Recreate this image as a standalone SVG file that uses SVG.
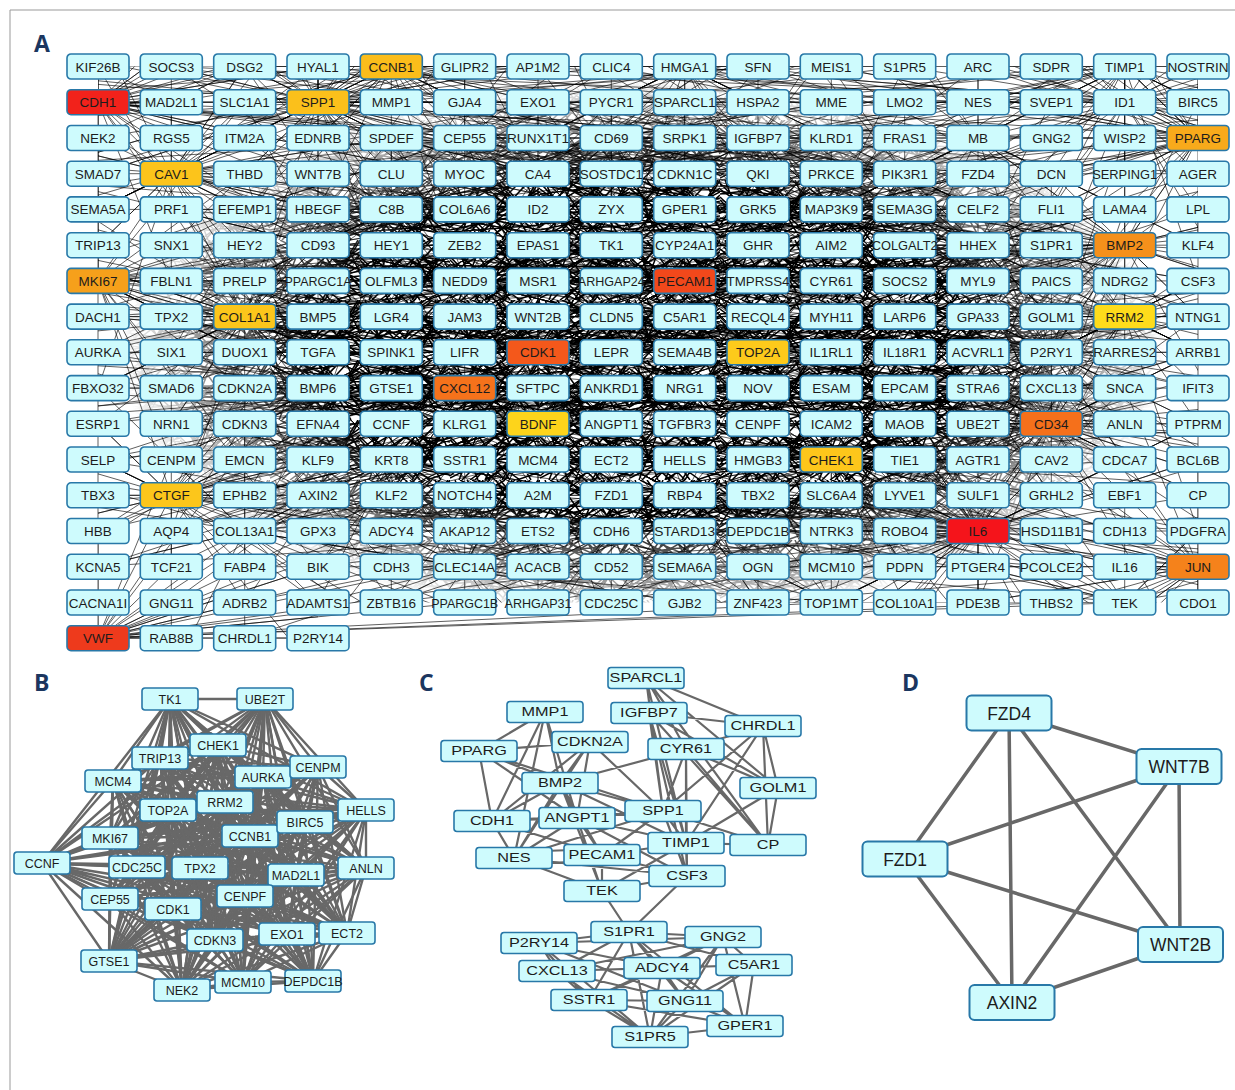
<svg xmlns="http://www.w3.org/2000/svg" width="1235" height="1090" viewBox="0 0 1235 1090">
<style>
.n rect{fill:#cefbfd;stroke:#2878a8;stroke-width:1.6px}
.n text{font-family:"Liberation Sans",Arial,sans-serif;fill:#1c1c1c;text-anchor:middle}
.pa rect{width:62px;height:25px;rx:4px;ry:4px}
.pa text{font-size:13.5px}
.pb rect{width:56px;height:22px;rx:3px;ry:3px}
.pb text{font-size:12.5px}
.pc rect{width:76px;height:21px;rx:3px;ry:3px}
.pc text{font-size:13px;transform:scaleX(1.25);transform-box:fill-box;transform-origin:center}
.pd rect{width:85px;height:35px;rx:5px;ry:5px;stroke-width:2px}
.pd text{font-size:17.5px}
.lbl{font-family:"Open Sans","Liberation Sans",sans-serif;font-weight:700;font-size:23px;fill:#1b365f}
.ea{fill:none;stroke:#000;stroke-width:.7px;stroke-opacity:.9}
.eg{fill:none;stroke:#686868;stroke-linecap:round;stroke-linejoin:round}
</style>
<defs>
<pattern id="mesh" width="90" height="60" patternUnits="userSpaceOnUse">
<path fill="none" stroke="#000" stroke-width="1.5" d="M0 5L90 22M0 14L90 3M0 27L90 41M0 38L90 55M0 50L90 31M0 58L90 12M5 0L28 60M17 0L60 60M33 0L9 60M46 0L81 60M62 0L35 60M75 0L90 34M88 0L52 60M0 20L40 60M50 0L90 48M0 45L30 0M20 60L90 8M0 9L70 60M10 0L90 40M0 33L55 0M35 60L90 25M0 52L90 45M40 0L0 30M67 60L90 52M0 25L90 28M12 60L72 0M0 41L90 18M80 0L25 60M55 60L90 0M0 17L45 60M28 0L90 56M0 56L65 0M0 31L90 50M70 0L0 47M90 15L38 60M0 44L90 36M22 0L90 30M0 3L55 60M90 46L45 0"/>
</pattern>
<radialGradient id="coreFade" cx=".5" cy=".5" r=".5">
<stop offset="0" stop-color="#fff"/><stop offset=".62" stop-color="#fff"/><stop offset=".88" stop-color="#555"/><stop offset="1" stop-color="#000"/>
</radialGradient>
<mask id="coreMask"><rect x="120" y="80" width="1045" height="540" fill="url(#coreFade)"/></mask>
<clipPath id="gridClip"><path d="M98 66.5H1198V602.5H318V638.2H98Z"/></clipPath>
<path id="sA" d="M73.3 0L0 0 146.7 35.7M220-35.7L0 0 73.3 71.5M293.3 71.5L0 0 146.7-107.2M366.7 35.7L0 0 220 142.9M0 107.2L0 0-73.3 71.5M-146.7 142.9L0 0-220 35.7M-293.3-71.5L0 0 440-71.5M146.7 214.4L0 0-73.3-142.9M293.3-178.7L0 0 513.3 107.2M-366.7 107.2L0 0 73.3-71.5M220 71.5L0 0-146.7-35.7M366.7-142.9L0 0 0-214.4"/>
<path id="sB" d="M146.7 0L0 0 73.3 35.7M293.3-35.7L0 0 220 107.2M-73.3 35.7L0 0-220 107.2M-146.7-71.5L0 0 73.3-107.2M440 35.7L0 0 146.7 178.7M-293.3 0L0 0 366.7 107.2M-73.3 214.4L0 0 220-71.5M-440-35.7L0 0 293.3 142.9M0-71.5L0 0 146.7-178.7M-220-142.9L0 0 513.3-35.7M73.3 142.9L0 0-146.7 71.5M366.7-71.5L0 0-366.7 178.7"/>
<path id="sC" d="M586.7 71.5L0 0 440 178.7M220 285.8L0 0-146.7 250.1M-440 142.9L0 0-586.7 35.7M-513.3-107.2L0 0-293.3-214.4M0-250.1L0 0 293.3-214.4M513.3-142.9L0 0 660 0M366.7 0L0 0 146.7 107.2M-220 71.5L0 0-73.3-107.2M220-107.2L0 0 73.3 178.7M-366.7-35.7L0 0 440-35.7"/>
<path id="sD" d="M73.3 35.7L0 0-73.3 35.7M73.3-35.7L0 0-73.3-35.7M146.7 35.7L0 0-146.7-35.7M73.3 71.5L0 0-73.3-71.5M146.7-35.7L0 0-146.7 35.7M220 0L0 0-220 0M146.7 71.5L0 0-146.7 71.5M220 35.7L0 0-220-35.7M73.3 107.2L0 0-73.3 107.2M220-71.5L0 0-220 71.5"/>
</defs>
<rect width="1235" height="1090" fill="#fff"/>
<path d="M10 1090V10H1235" fill="none" stroke="#999" stroke-width="1"/>

<!-- panel labels -->
<text class="lbl" x="34" y="52">A</text>
<text class="lbl" x="34" y="691">B</text>
<text class="lbl" x="419" y="691">C</text>
<text class="lbl" x="902" y="691">D</text>

<!-- A: connectors -->
<g id="edges-a" class="ea">
<g clip-path="url(#gridClip)">
<rect x="120" y="80" width="1045" height="540" fill="url(#mesh)" stroke="none" mask="url(#coreMask)"/>
<use href="#sC" transform="translate(684.7 280.9)"/>
<use href="#sA" transform="translate(684.7 280.9)"/>
<use href="#sB" transform="translate(684.7 280.9)scale(-1 1)"/>
<use href="#sD" transform="translate(684.7 280.9)"/>
<use href="#sC" transform="translate(538 352.3)scale(-1 1)"/>
<use href="#sA" transform="translate(538 352.3)scale(-1 -1)"/>
<use href="#sB" transform="translate(538 352.3)"/>
<use href="#sD" transform="translate(538 352.3)"/>
<use href="#sC" transform="translate(464.7 388.1)scale(1 -1)"/>
<use href="#sB" transform="translate(464.7 388.1)scale(-1 -1)"/>
<use href="#sD" transform="translate(464.7 388.1)scale(-1 1)"/>
<use href="#sA" transform="translate(538 423.8)scale(1 -1)"/>
<use href="#sB" transform="translate(538 423.8)scale(-1 1)"/>
<use href="#sD" transform="translate(538 423.8)"/>
<use href="#sC" transform="translate(758 352.3)scale(-1 -1)"/>
<use href="#sA" transform="translate(758 352.3)scale(-1 1)"/>
<use href="#sD" transform="translate(758 352.3)"/>
<use href="#sC" transform="translate(978 531)scale(-1 -1)"/>
<use href="#sA" transform="translate(978 531)scale(-1 -1)"/>
<use href="#sB" transform="translate(978 531)scale(-1 -1)"/>
<use href="#sC" transform="translate(1051.3 423.8)scale(-1 1)"/>
<use href="#sB" transform="translate(1051.3 423.8)scale(-1 -1)"/>
<use href="#sD" transform="translate(1051.3 423.8)"/>
<use href="#sA" transform="translate(831.3 459.5)scale(-1 -1)"/>
<use href="#sB" transform="translate(831.3 459.5)scale(1 -1)"/>
<use href="#sD" transform="translate(831.3 459.5)"/>
<use href="#sC" transform="translate(98 102.2)"/>
<use href="#sA" transform="translate(98 102.2)"/>
<use href="#sC" transform="translate(98 638.2)scale(1 -1)"/>
<use href="#sA" transform="translate(98 638.2)scale(1 -1)"/>
<use href="#sC" transform="translate(1198 566.7)scale(-1 -1)"/>
<use href="#sA" transform="translate(1198 566.7)scale(-1 -1)"/>
<use href="#sC" transform="translate(98 280.9)"/>
<use href="#sB" transform="translate(98 280.9)"/>
<use href="#sC" transform="translate(1124.7 245.2)scale(-1 1)"/>
<use href="#sA" transform="translate(1124.7 245.2)scale(-1 1)"/>
<use href="#sA" transform="translate(318 102.2)"/>
<use href="#sB" transform="translate(318 102.2)"/>
<use href="#sC" transform="translate(318 102.2)"/>
<use href="#sA" transform="translate(391.3 66.5)"/>
<use href="#sB" transform="translate(391.3 66.5)scale(-1 1)"/>
<use href="#sB" transform="translate(171.3 173.7)"/>
<use href="#sA" transform="translate(171.3 173.7)"/>
<use href="#sB" transform="translate(244.7 316.6)"/>
<use href="#sC" transform="translate(244.7 316.6)scale(1 -1)"/>
<use href="#sD" transform="translate(244.7 316.6)"/>
<use href="#sA" transform="translate(171.3 495.3)scale(1 -1)"/>
<use href="#sB" transform="translate(171.3 495.3)scale(1 -1)"/>
<use href="#sB" transform="translate(1124.7 316.6)scale(-1 1)"/>
<use href="#sD" transform="translate(1124.7 316.6)"/>
<use href="#sA" transform="translate(1198 138)scale(-1 1)"/>
<use href="#sB" transform="translate(1198 138)scale(-1 1)"/>
<use href="#sD" transform="translate(611.3 245.2)"/>
<use href="#sB" transform="translate(611.3 245.2)"/>
<use href="#sA" transform="translate(611.3 316.6)"/>
<use href="#sD" transform="translate(611.3 316.6)"/>
<use href="#sB" transform="translate(684.7 388.1)scale(-1 -1)"/>
<use href="#sD" transform="translate(684.7 388.1)"/>
<use href="#sA" transform="translate(464.7 280.9)"/>
<use href="#sD" transform="translate(464.7 280.9)"/>
<use href="#sB" transform="translate(391.3 209.4)"/>
<use href="#sD" transform="translate(391.3 209.4)"/>
<use href="#sA" transform="translate(831.3 209.4)scale(-1 1)"/>
<use href="#sD" transform="translate(831.3 209.4)"/>
<use href="#sB" transform="translate(904.7 316.6)scale(-1 1)"/>
<use href="#sD" transform="translate(904.7 316.6)"/>
<use href="#sA" transform="translate(391.3 459.5)scale(1 -1)"/>
<use href="#sD" transform="translate(391.3 459.5)"/>
<use href="#sB" transform="translate(684.7 495.3)scale(1 -1)"/>
<use href="#sD" transform="translate(684.7 495.3)"/>
<use href="#sA" transform="translate(538 173.7)"/>
<use href="#sD" transform="translate(538 173.7)"/>
<use href="#sB" transform="translate(758 138)"/>
<use href="#sD" transform="translate(978 245.2)"/>
<use href="#sA" transform="translate(978 245.2)scale(-1 1)"/>
<use href="#sD" transform="translate(318 388.1)"/>
<use href="#sB" transform="translate(318 388.1)scale(1 -1)"/>
<use href="#sD" transform="translate(904.7 423.8)"/>
<use href="#sA" transform="translate(1124.7 66.5)scale(-1 1)"/>
<use href="#sB" transform="translate(1124.7 66.5)scale(-1 1)"/>
<use href="#sD" transform="translate(1124.7 102.2)"/>
<use href="#sC" transform="translate(1124.7 102.2)scale(-1 1)"/>
<use href="#sB" transform="translate(611.3 531)scale(-1 -1)"/>
<use href="#sA" transform="translate(244.7 531)scale(1 -1)"/>
<use href="#sD" transform="translate(1051.3 352.3)"/>
<use href="#sB" transform="translate(1051.3 352.3)scale(-1 -1)"/>
<use href="#sD" transform="translate(244.7 66.5)"/>
<use href="#sD" transform="translate(684.7 66.5)"/>
<use href="#sB" transform="translate(684.7 66.5)"/>
<use href="#sB" transform="translate(831.3 602.5)scale(-1 -1)"/>
<use href="#sA" transform="translate(1124.7 602.5)scale(-1 -1)"/>
<use href="#sD" transform="translate(464.7 566.7)"/>
<use href="#sA" transform="translate(611.3 138)"/>
<use href="#sB" transform="translate(904.7 173.7)scale(-1 1)"/>
<use href="#sA" transform="translate(318 245.2)"/>
<use href="#sB" transform="translate(978 138)scale(-1 1)"/>
<use href="#sC" transform="translate(464.7 138)"/>
<use href="#sD" transform="translate(318 495.3)"/>
<use href="#sD" transform="translate(978 388.1)"/>
<use href="#sD" transform="translate(758 209.4)"/>
<use href="#sD" transform="translate(391.3 316.6)"/>
</g>
<path d="M98 102.2V638.2M1198 209.4V602.5M98 638.2L1124.7 602.5M98 638.2L1051.3 602.5M98 638.2L831.3 602.5M98 638.2L611.3 566.7M98 638.2L538 495.3M98 638.2L391.3 531M98 638.2L244.7 566.7M98 638.2L318 638.2M98 638.2L171.3 602.5M98 638.2L464.7 602.5M98 66.5L171.3 102.2M244.7 66.5L1124.7 66.5M318 66.5L684.7 102.2M391.3 66.5L1124.7 102.2M171.3 66.5L978 102.2M464.7 66.5L1198 102.2M98 102.2L1051.3 138M98 102.2L904.7 173.7M98 102.2L538 138M98 102.2L758 173.7M98 102.2L611.3 209.4M1124.7 66.5L1198 66.5M1198 66.5L1124.7 102.2M538 66.5L1051.3 102.2M758 66.5L391.3 102.2M904.7 66.5L611.3 102.2M831.3 66.5L1198 138M171.3 66.5L684.7 138"/>
</g>

<!-- A: nodes, one row per group -->
<g id="nodes-a" class="n pa">
<g transform="translate(0 54)">
<g id="a-KIF26B" transform="translate(67)"><rect/><text x="31" y="17.5">KIF26B</text></g>
<g id="a-SOCS3" transform="translate(140.3)"><rect/><text x="31" y="17.5">SOCS3</text></g>
<g id="a-DSG2" transform="translate(213.7)"><rect/><text x="31" y="17.5">DSG2</text></g>
<g id="a-HYAL1" transform="translate(287)"><rect/><text x="31" y="17.5">HYAL1</text></g>
<g id="a-CCNB1" transform="translate(360.3)"><rect style="fill:#fbbd1b"/><text x="31" y="17.5">CCNB1</text></g>
<g id="a-GLIPR2" transform="translate(433.7)"><rect/><text x="31" y="17.5">GLIPR2</text></g>
<g id="a-AP1M2" transform="translate(507)"><rect/><text x="31" y="17.5">AP1M2</text></g>
<g id="a-CLIC4" transform="translate(580.3)"><rect/><text x="31" y="17.5">CLIC4</text></g>
<g id="a-HMGA1" transform="translate(653.7)"><rect/><text x="31" y="17.5">HMGA1</text></g>
<g id="a-SFN" transform="translate(727)"><rect/><text x="31" y="17.5">SFN</text></g>
<g id="a-MEIS1" transform="translate(800.3)"><rect/><text x="31" y="17.5">MEIS1</text></g>
<g id="a-S1PR5" transform="translate(873.7)"><rect/><text x="31" y="17.5">S1PR5</text></g>
<g id="a-ARC" transform="translate(947)"><rect/><text x="31" y="17.5">ARC</text></g>
<g id="a-SDPR" transform="translate(1020.3)"><rect/><text x="31" y="17.5">SDPR</text></g>
<g id="a-TIMP1" transform="translate(1093.7)"><rect/><text x="31" y="17.5">TIMP1</text></g>
<g id="a-NOSTRIN" transform="translate(1167)"><rect/><text x="31" y="17.5" textLength="61" lengthAdjust="spacingAndGlyphs">NOSTRIN</text></g>
</g>
<g transform="translate(0 89.7)">
<g id="a-CDH1" transform="translate(67)"><rect style="fill:#f2221b"/><text x="31" y="17.5">CDH1</text></g>
<g id="a-MAD2L1" transform="translate(140.3)"><rect/><text x="31" y="17.5">MAD2L1</text></g>
<g id="a-SLC1A1" transform="translate(213.7)"><rect/><text x="31" y="17.5">SLC1A1</text></g>
<g id="a-SPP1" transform="translate(287)"><rect style="fill:#fbc01b"/><text x="31" y="17.5">SPP1</text></g>
<g id="a-MMP1" transform="translate(360.3)"><rect/><text x="31" y="17.5">MMP1</text></g>
<g id="a-GJA4" transform="translate(433.7)"><rect/><text x="31" y="17.5">GJA4</text></g>
<g id="a-EXO1" transform="translate(507)"><rect/><text x="31" y="17.5">EXO1</text></g>
<g id="a-PYCR1" transform="translate(580.3)"><rect/><text x="31" y="17.5">PYCR1</text></g>
<g id="a-SPARCL1" transform="translate(653.7)"><rect/><text x="31" y="17.5" textLength="62" lengthAdjust="spacingAndGlyphs">SPARCL1</text></g>
<g id="a-HSPA2" transform="translate(727)"><rect/><text x="31" y="17.5">HSPA2</text></g>
<g id="a-MME" transform="translate(800.3)"><rect/><text x="31" y="17.5">MME</text></g>
<g id="a-LMO2" transform="translate(873.7)"><rect/><text x="31" y="17.5">LMO2</text></g>
<g id="a-NES" transform="translate(947)"><rect/><text x="31" y="17.5">NES</text></g>
<g id="a-SVEP1" transform="translate(1020.3)"><rect/><text x="31" y="17.5">SVEP1</text></g>
<g id="a-ID1" transform="translate(1093.7)"><rect/><text x="31" y="17.5">ID1</text></g>
<g id="a-BIRC5" transform="translate(1167)"><rect/><text x="31" y="17.5">BIRC5</text></g>
</g>
<g transform="translate(0 125.5)">
<g id="a-NEK2" transform="translate(67)"><rect/><text x="31" y="17.5">NEK2</text></g>
<g id="a-RGS5" transform="translate(140.3)"><rect/><text x="31" y="17.5">RGS5</text></g>
<g id="a-ITM2A" transform="translate(213.7)"><rect/><text x="31" y="17.5">ITM2A</text></g>
<g id="a-EDNRB" transform="translate(287)"><rect/><text x="31" y="17.5">EDNRB</text></g>
<g id="a-SPDEF" transform="translate(360.3)"><rect/><text x="31" y="17.5">SPDEF</text></g>
<g id="a-CEP55" transform="translate(433.7)"><rect/><text x="31" y="17.5">CEP55</text></g>
<g id="a-RUNX1T1" transform="translate(507)"><rect/><text x="31" y="17.5" textLength="62" lengthAdjust="spacingAndGlyphs">RUNX1T1</text></g>
<g id="a-CD69" transform="translate(580.3)"><rect/><text x="31" y="17.5">CD69</text></g>
<g id="a-SRPK1" transform="translate(653.7)"><rect/><text x="31" y="17.5">SRPK1</text></g>
<g id="a-IGFBP7" transform="translate(727)"><rect/><text x="31" y="17.5">IGFBP7</text></g>
<g id="a-KLRD1" transform="translate(800.3)"><rect/><text x="31" y="17.5">KLRD1</text></g>
<g id="a-FRAS1" transform="translate(873.7)"><rect/><text x="31" y="17.5">FRAS1</text></g>
<g id="a-MB" transform="translate(947)"><rect/><text x="31" y="17.5">MB</text></g>
<g id="a-GNG2" transform="translate(1020.3)"><rect/><text x="31" y="17.5">GNG2</text></g>
<g id="a-WISP2" transform="translate(1093.7)"><rect/><text x="31" y="17.5">WISP2</text></g>
<g id="a-PPARG" transform="translate(1167)"><rect style="fill:#f8aa1b"/><text x="31" y="17.5">PPARG</text></g>
</g>
<g transform="translate(0 161.2)">
<g id="a-SMAD7" transform="translate(67)"><rect/><text x="31" y="17.5">SMAD7</text></g>
<g id="a-CAV1" transform="translate(140.3)"><rect style="fill:#fcc41b"/><text x="31" y="17.5">CAV1</text></g>
<g id="a-THBD" transform="translate(213.7)"><rect/><text x="31" y="17.5">THBD</text></g>
<g id="a-WNT7B" transform="translate(287)"><rect/><text x="31" y="17.5">WNT7B</text></g>
<g id="a-CLU" transform="translate(360.3)"><rect/><text x="31" y="17.5">CLU</text></g>
<g id="a-MYOC" transform="translate(433.7)"><rect/><text x="31" y="17.5">MYOC</text></g>
<g id="a-CA4" transform="translate(507)"><rect/><text x="31" y="17.5">CA4</text></g>
<g id="a-SOSTDC1" transform="translate(580.3)"><rect/><text x="31" y="17.5" textLength="63" lengthAdjust="spacingAndGlyphs">SOSTDC1</text></g>
<g id="a-CDKN1C" transform="translate(653.7)"><rect/><text x="31" y="17.5">CDKN1C</text></g>
<g id="a-QKI" transform="translate(727)"><rect/><text x="31" y="17.5">QKI</text></g>
<g id="a-PRKCE" transform="translate(800.3)"><rect/><text x="31" y="17.5">PRKCE</text></g>
<g id="a-PIK3R1" transform="translate(873.7)"><rect/><text x="31" y="17.5">PIK3R1</text></g>
<g id="a-FZD4" transform="translate(947)"><rect/><text x="31" y="17.5">FZD4</text></g>
<g id="a-DCN" transform="translate(1020.3)"><rect/><text x="31" y="17.5">DCN</text></g>
<g id="a-SERPING1" transform="translate(1093.7)"><rect/><text x="31" y="17.5" textLength="65" lengthAdjust="spacingAndGlyphs">SERPING1</text></g>
<g id="a-AGER" transform="translate(1167)"><rect/><text x="31" y="17.5">AGER</text></g>
</g>
<g transform="translate(0 196.9)">
<g id="a-SEMA5A" transform="translate(67)"><rect/><text x="31" y="17.5">SEMA5A</text></g>
<g id="a-PRF1" transform="translate(140.3)"><rect/><text x="31" y="17.5">PRF1</text></g>
<g id="a-EFEMP1" transform="translate(213.7)"><rect/><text x="31" y="17.5">EFEMP1</text></g>
<g id="a-HBEGF" transform="translate(287)"><rect/><text x="31" y="17.5">HBEGF</text></g>
<g id="a-C8B" transform="translate(360.3)"><rect/><text x="31" y="17.5">C8B</text></g>
<g id="a-COL6A6" transform="translate(433.7)"><rect/><text x="31" y="17.5">COL6A6</text></g>
<g id="a-ID2" transform="translate(507)"><rect/><text x="31" y="17.5">ID2</text></g>
<g id="a-ZYX" transform="translate(580.3)"><rect/><text x="31" y="17.5">ZYX</text></g>
<g id="a-GPER1" transform="translate(653.7)"><rect/><text x="31" y="17.5">GPER1</text></g>
<g id="a-GRK5" transform="translate(727)"><rect/><text x="31" y="17.5">GRK5</text></g>
<g id="a-MAP3K9" transform="translate(800.3)"><rect/><text x="31" y="17.5">MAP3K9</text></g>
<g id="a-SEMA3G" transform="translate(873.7)"><rect/><text x="31" y="17.5">SEMA3G</text></g>
<g id="a-CELF2" transform="translate(947)"><rect/><text x="31" y="17.5">CELF2</text></g>
<g id="a-FLI1" transform="translate(1020.3)"><rect/><text x="31" y="17.5">FLI1</text></g>
<g id="a-LAMA4" transform="translate(1093.7)"><rect/><text x="31" y="17.5">LAMA4</text></g>
<g id="a-LPL" transform="translate(1167)"><rect/><text x="31" y="17.5">LPL</text></g>
</g>
<g transform="translate(0 232.7)">
<g id="a-TRIP13" transform="translate(67)"><rect/><text x="31" y="17.5">TRIP13</text></g>
<g id="a-SNX1" transform="translate(140.3)"><rect/><text x="31" y="17.5">SNX1</text></g>
<g id="a-HEY2" transform="translate(213.7)"><rect/><text x="31" y="17.5">HEY2</text></g>
<g id="a-CD93" transform="translate(287)"><rect/><text x="31" y="17.5">CD93</text></g>
<g id="a-HEY1" transform="translate(360.3)"><rect/><text x="31" y="17.5">HEY1</text></g>
<g id="a-ZEB2" transform="translate(433.7)"><rect/><text x="31" y="17.5">ZEB2</text></g>
<g id="a-EPAS1" transform="translate(507)"><rect/><text x="31" y="17.5">EPAS1</text></g>
<g id="a-TK1" transform="translate(580.3)"><rect/><text x="31" y="17.5">TK1</text></g>
<g id="a-CYP24A1" transform="translate(653.7)"><rect/><text x="31" y="17.5">CYP24A1</text></g>
<g id="a-GHR" transform="translate(727)"><rect/><text x="31" y="17.5">GHR</text></g>
<g id="a-AIM2" transform="translate(800.3)"><rect/><text x="31" y="17.5">AIM2</text></g>
<g id="a-COLGALT2" transform="translate(873.7)"><rect/><text x="31" y="17.5" textLength="66" lengthAdjust="spacingAndGlyphs">COLGALT2</text></g>
<g id="a-HHEX" transform="translate(947)"><rect/><text x="31" y="17.5">HHEX</text></g>
<g id="a-S1PR1" transform="translate(1020.3)"><rect/><text x="31" y="17.5">S1PR1</text></g>
<g id="a-BMP2" transform="translate(1093.7)"><rect style="fill:#f5901b"/><text x="31" y="17.5">BMP2</text></g>
<g id="a-KLF4" transform="translate(1167)"><rect/><text x="31" y="17.5">KLF4</text></g>
</g>
<g transform="translate(0 268.4)">
<g id="a-MKI67" transform="translate(67)"><rect style="fill:#f6a01b"/><text x="31" y="17.5">MKI67</text></g>
<g id="a-FBLN1" transform="translate(140.3)"><rect/><text x="31" y="17.5">FBLN1</text></g>
<g id="a-PRELP" transform="translate(213.7)"><rect/><text x="31" y="17.5">PRELP</text></g>
<g id="a-PPARGC1A" transform="translate(287)"><rect/><text x="31" y="17.5" textLength="67" lengthAdjust="spacingAndGlyphs">PPARGC1A</text></g>
<g id="a-OLFML3" transform="translate(360.3)"><rect/><text x="31" y="17.5">OLFML3</text></g>
<g id="a-NEDD9" transform="translate(433.7)"><rect/><text x="31" y="17.5">NEDD9</text></g>
<g id="a-MSR1" transform="translate(507)"><rect/><text x="31" y="17.5">MSR1</text></g>
<g id="a-ARHGAP24" transform="translate(580.3)"><rect/><text x="31" y="17.5" textLength="67" lengthAdjust="spacingAndGlyphs">ARHGAP24</text></g>
<g id="a-PECAM1" transform="translate(653.7)"><rect style="fill:#f2481b"/><text x="31" y="17.5">PECAM1</text></g>
<g id="a-TMPRSS4" transform="translate(727)"><rect/><text x="31" y="17.5" textLength="63" lengthAdjust="spacingAndGlyphs">TMPRSS4</text></g>
<g id="a-CYR61" transform="translate(800.3)"><rect/><text x="31" y="17.5">CYR61</text></g>
<g id="a-SOCS2" transform="translate(873.7)"><rect/><text x="31" y="17.5">SOCS2</text></g>
<g id="a-MYL9" transform="translate(947)"><rect/><text x="31" y="17.5">MYL9</text></g>
<g id="a-PAICS" transform="translate(1020.3)"><rect/><text x="31" y="17.5">PAICS</text></g>
<g id="a-NDRG2" transform="translate(1093.7)"><rect/><text x="31" y="17.5">NDRG2</text></g>
<g id="a-CSF3" transform="translate(1167)"><rect/><text x="31" y="17.5">CSF3</text></g>
</g>
<g transform="translate(0 304.1)">
<g id="a-DACH1" transform="translate(67)"><rect/><text x="31" y="17.5">DACH1</text></g>
<g id="a-TPX2" transform="translate(140.3)"><rect/><text x="31" y="17.5">TPX2</text></g>
<g id="a-COL1A1" transform="translate(213.7)"><rect style="fill:#fcc61b"/><text x="31" y="17.5">COL1A1</text></g>
<g id="a-BMP5" transform="translate(287)"><rect/><text x="31" y="17.5">BMP5</text></g>
<g id="a-LGR4" transform="translate(360.3)"><rect/><text x="31" y="17.5">LGR4</text></g>
<g id="a-JAM3" transform="translate(433.7)"><rect/><text x="31" y="17.5">JAM3</text></g>
<g id="a-WNT2B" transform="translate(507)"><rect/><text x="31" y="17.5">WNT2B</text></g>
<g id="a-CLDN5" transform="translate(580.3)"><rect/><text x="31" y="17.5">CLDN5</text></g>
<g id="a-C5AR1" transform="translate(653.7)"><rect/><text x="31" y="17.5">C5AR1</text></g>
<g id="a-RECQL4" transform="translate(727)"><rect/><text x="31" y="17.5">RECQL4</text></g>
<g id="a-MYH11" transform="translate(800.3)"><rect/><text x="31" y="17.5">MYH11</text></g>
<g id="a-LARP6" transform="translate(873.7)"><rect/><text x="31" y="17.5">LARP6</text></g>
<g id="a-GPA33" transform="translate(947)"><rect/><text x="31" y="17.5">GPA33</text></g>
<g id="a-GOLM1" transform="translate(1020.3)"><rect/><text x="31" y="17.5">GOLM1</text></g>
<g id="a-RRM2" transform="translate(1093.7)"><rect style="fill:#fedc1b"/><text x="31" y="17.5">RRM2</text></g>
<g id="a-NTNG1" transform="translate(1167)"><rect/><text x="31" y="17.5">NTNG1</text></g>
</g>
<g transform="translate(0 339.8)">
<g id="a-AURKA" transform="translate(67)"><rect/><text x="31" y="17.5">AURKA</text></g>
<g id="a-SIX1" transform="translate(140.3)"><rect/><text x="31" y="17.5">SIX1</text></g>
<g id="a-DUOX1" transform="translate(213.7)"><rect/><text x="31" y="17.5">DUOX1</text></g>
<g id="a-TGFA" transform="translate(287)"><rect/><text x="31" y="17.5">TGFA</text></g>
<g id="a-SPINK1" transform="translate(360.3)"><rect/><text x="31" y="17.5">SPINK1</text></g>
<g id="a-LIFR" transform="translate(433.7)"><rect/><text x="31" y="17.5">LIFR</text></g>
<g id="a-CDK1" transform="translate(507)"><rect style="fill:#f4581b"/><text x="31" y="17.5">CDK1</text></g>
<g id="a-LEPR" transform="translate(580.3)"><rect/><text x="31" y="17.5">LEPR</text></g>
<g id="a-SEMA4B" transform="translate(653.7)"><rect/><text x="31" y="17.5">SEMA4B</text></g>
<g id="a-TOP2A" transform="translate(727)"><rect style="fill:#fdca1b"/><text x="31" y="17.5">TOP2A</text></g>
<g id="a-IL1RL1" transform="translate(800.3)"><rect/><text x="31" y="17.5">IL1RL1</text></g>
<g id="a-IL18R1" transform="translate(873.7)"><rect/><text x="31" y="17.5">IL18R1</text></g>
<g id="a-ACVRL1" transform="translate(947)"><rect/><text x="31" y="17.5">ACVRL1</text></g>
<g id="a-P2RY1" transform="translate(1020.3)"><rect/><text x="31" y="17.5">P2RY1</text></g>
<g id="a-RARRES2" transform="translate(1093.7)"><rect/><text x="31" y="17.5" textLength="63" lengthAdjust="spacingAndGlyphs">RARRES2</text></g>
<g id="a-ARRB1" transform="translate(1167)"><rect/><text x="31" y="17.5">ARRB1</text></g>
</g>
<g transform="translate(0 375.6)">
<g id="a-FBXO32" transform="translate(67)"><rect/><text x="31" y="17.5">FBXO32</text></g>
<g id="a-SMAD6" transform="translate(140.3)"><rect/><text x="31" y="17.5">SMAD6</text></g>
<g id="a-CDKN2A" transform="translate(213.7)"><rect/><text x="31" y="17.5">CDKN2A</text></g>
<g id="a-BMP6" transform="translate(287)"><rect/><text x="31" y="17.5">BMP6</text></g>
<g id="a-GTSE1" transform="translate(360.3)"><rect/><text x="31" y="17.5">GTSE1</text></g>
<g id="a-CXCL12" transform="translate(433.7)"><rect style="fill:#f5721b"/><text x="31" y="17.5">CXCL12</text></g>
<g id="a-SFTPC" transform="translate(507)"><rect/><text x="31" y="17.5">SFTPC</text></g>
<g id="a-ANKRD1" transform="translate(580.3)"><rect/><text x="31" y="17.5">ANKRD1</text></g>
<g id="a-NRG1" transform="translate(653.7)"><rect/><text x="31" y="17.5">NRG1</text></g>
<g id="a-NOV" transform="translate(727)"><rect/><text x="31" y="17.5">NOV</text></g>
<g id="a-ESAM" transform="translate(800.3)"><rect/><text x="31" y="17.5">ESAM</text></g>
<g id="a-EPCAM" transform="translate(873.7)"><rect/><text x="31" y="17.5">EPCAM</text></g>
<g id="a-STRA6" transform="translate(947)"><rect/><text x="31" y="17.5">STRA6</text></g>
<g id="a-CXCL13" transform="translate(1020.3)"><rect/><text x="31" y="17.5">CXCL13</text></g>
<g id="a-SNCA" transform="translate(1093.7)"><rect/><text x="31" y="17.5">SNCA</text></g>
<g id="a-IFIT3" transform="translate(1167)"><rect/><text x="31" y="17.5">IFIT3</text></g>
</g>
<g transform="translate(0 411.3)">
<g id="a-ESRP1" transform="translate(67)"><rect/><text x="31" y="17.5">ESRP1</text></g>
<g id="a-NRN1" transform="translate(140.3)"><rect/><text x="31" y="17.5">NRN1</text></g>
<g id="a-CDKN3" transform="translate(213.7)"><rect/><text x="31" y="17.5">CDKN3</text></g>
<g id="a-EFNA4" transform="translate(287)"><rect/><text x="31" y="17.5">EFNA4</text></g>
<g id="a-CCNF" transform="translate(360.3)"><rect/><text x="31" y="17.5">CCNF</text></g>
<g id="a-KLRG1" transform="translate(433.7)"><rect/><text x="31" y="17.5">KLRG1</text></g>
<g id="a-BDNF" transform="translate(507)"><rect style="fill:#fdd41b"/><text x="31" y="17.5">BDNF</text></g>
<g id="a-ANGPT1" transform="translate(580.3)"><rect/><text x="31" y="17.5">ANGPT1</text></g>
<g id="a-TGFBR3" transform="translate(653.7)"><rect/><text x="31" y="17.5">TGFBR3</text></g>
<g id="a-CENPF" transform="translate(727)"><rect/><text x="31" y="17.5">CENPF</text></g>
<g id="a-ICAM2" transform="translate(800.3)"><rect/><text x="31" y="17.5">ICAM2</text></g>
<g id="a-MAOB" transform="translate(873.7)"><rect/><text x="31" y="17.5">MAOB</text></g>
<g id="a-UBE2T" transform="translate(947)"><rect/><text x="31" y="17.5">UBE2T</text></g>
<g id="a-CD34" transform="translate(1020.3)"><rect style="fill:#f5701b"/><text x="31" y="17.5">CD34</text></g>
<g id="a-ANLN" transform="translate(1093.7)"><rect/><text x="31" y="17.5">ANLN</text></g>
<g id="a-PTPRM" transform="translate(1167)"><rect/><text x="31" y="17.5">PTPRM</text></g>
</g>
<g transform="translate(0 447)">
<g id="a-SELP" transform="translate(67)"><rect/><text x="31" y="17.5">SELP</text></g>
<g id="a-CENPM" transform="translate(140.3)"><rect/><text x="31" y="17.5">CENPM</text></g>
<g id="a-EMCN" transform="translate(213.7)"><rect/><text x="31" y="17.5">EMCN</text></g>
<g id="a-KLF9" transform="translate(287)"><rect/><text x="31" y="17.5">KLF9</text></g>
<g id="a-KRT8" transform="translate(360.3)"><rect/><text x="31" y="17.5">KRT8</text></g>
<g id="a-SSTR1" transform="translate(433.7)"><rect/><text x="31" y="17.5">SSTR1</text></g>
<g id="a-MCM4" transform="translate(507)"><rect/><text x="31" y="17.5">MCM4</text></g>
<g id="a-ECT2" transform="translate(580.3)"><rect/><text x="31" y="17.5">ECT2</text></g>
<g id="a-HELLS" transform="translate(653.7)"><rect/><text x="31" y="17.5">HELLS</text></g>
<g id="a-HMGB3" transform="translate(727)"><rect/><text x="31" y="17.5">HMGB3</text></g>
<g id="a-CHEK1" transform="translate(800.3)"><rect style="fill:#fdc61b"/><text x="31" y="17.5">CHEK1</text></g>
<g id="a-TIE1" transform="translate(873.7)"><rect/><text x="31" y="17.5">TIE1</text></g>
<g id="a-AGTR1" transform="translate(947)"><rect/><text x="31" y="17.5">AGTR1</text></g>
<g id="a-CAV2" transform="translate(1020.3)"><rect/><text x="31" y="17.5">CAV2</text></g>
<g id="a-CDCA7" transform="translate(1093.7)"><rect/><text x="31" y="17.5">CDCA7</text></g>
<g id="a-BCL6B" transform="translate(1167)"><rect/><text x="31" y="17.5">BCL6B</text></g>
</g>
<g transform="translate(0 482.8)">
<g id="a-TBX3" transform="translate(67)"><rect/><text x="31" y="17.5">TBX3</text></g>
<g id="a-CTGF" transform="translate(140.3)"><rect style="fill:#fcc61b"/><text x="31" y="17.5">CTGF</text></g>
<g id="a-EPHB2" transform="translate(213.7)"><rect/><text x="31" y="17.5">EPHB2</text></g>
<g id="a-AXIN2" transform="translate(287)"><rect/><text x="31" y="17.5">AXIN2</text></g>
<g id="a-KLF2" transform="translate(360.3)"><rect/><text x="31" y="17.5">KLF2</text></g>
<g id="a-NOTCH4" transform="translate(433.7)"><rect/><text x="31" y="17.5">NOTCH4</text></g>
<g id="a-A2M" transform="translate(507)"><rect/><text x="31" y="17.5">A2M</text></g>
<g id="a-FZD1" transform="translate(580.3)"><rect/><text x="31" y="17.5">FZD1</text></g>
<g id="a-RBP4" transform="translate(653.7)"><rect/><text x="31" y="17.5">RBP4</text></g>
<g id="a-TBX2" transform="translate(727)"><rect/><text x="31" y="17.5">TBX2</text></g>
<g id="a-SLC6A4" transform="translate(800.3)"><rect/><text x="31" y="17.5">SLC6A4</text></g>
<g id="a-LYVE1" transform="translate(873.7)"><rect/><text x="31" y="17.5">LYVE1</text></g>
<g id="a-SULF1" transform="translate(947)"><rect/><text x="31" y="17.5">SULF1</text></g>
<g id="a-GRHL2" transform="translate(1020.3)"><rect/><text x="31" y="17.5">GRHL2</text></g>
<g id="a-EBF1" transform="translate(1093.7)"><rect/><text x="31" y="17.5">EBF1</text></g>
<g id="a-CP" transform="translate(1167)"><rect/><text x="31" y="17.5">CP</text></g>
</g>
<g transform="translate(0 518.5)">
<g id="a-HBB" transform="translate(67)"><rect/><text x="31" y="17.5">HBB</text></g>
<g id="a-AQP4" transform="translate(140.3)"><rect/><text x="31" y="17.5">AQP4</text></g>
<g id="a-COL13A1" transform="translate(213.7)"><rect/><text x="31" y="17.5">COL13A1</text></g>
<g id="a-GPX3" transform="translate(287)"><rect/><text x="31" y="17.5">GPX3</text></g>
<g id="a-ADCY4" transform="translate(360.3)"><rect/><text x="31" y="17.5">ADCY4</text></g>
<g id="a-AKAP12" transform="translate(433.7)"><rect/><text x="31" y="17.5">AKAP12</text></g>
<g id="a-ETS2" transform="translate(507)"><rect/><text x="31" y="17.5">ETS2</text></g>
<g id="a-CDH6" transform="translate(580.3)"><rect/><text x="31" y="17.5">CDH6</text></g>
<g id="a-STARD13" transform="translate(653.7)"><rect/><text x="31" y="17.5" textLength="61" lengthAdjust="spacingAndGlyphs">STARD13</text></g>
<g id="a-DEPDC1B" transform="translate(727)"><rect/><text x="31" y="17.5" textLength="63" lengthAdjust="spacingAndGlyphs">DEPDC1B</text></g>
<g id="a-NTRK3" transform="translate(800.3)"><rect/><text x="31" y="17.5">NTRK3</text></g>
<g id="a-ROBO4" transform="translate(873.7)"><rect/><text x="31" y="17.5">ROBO4</text></g>
<g id="a-IL6" transform="translate(947)"><rect style="fill:#f5141b"/><text x="31" y="17.5">IL6</text></g>
<g id="a-HSD11B1" transform="translate(1020.3)"><rect/><text x="31" y="17.5" textLength="61" lengthAdjust="spacingAndGlyphs">HSD11B1</text></g>
<g id="a-CDH13" transform="translate(1093.7)"><rect/><text x="31" y="17.5">CDH13</text></g>
<g id="a-PDGFRA" transform="translate(1167)"><rect/><text x="31" y="17.5">PDGFRA</text></g>
</g>
<g transform="translate(0 554.2)">
<g id="a-KCNA5" transform="translate(67)"><rect/><text x="31" y="17.5">KCNA5</text></g>
<g id="a-TCF21" transform="translate(140.3)"><rect/><text x="31" y="17.5">TCF21</text></g>
<g id="a-FABP4" transform="translate(213.7)"><rect/><text x="31" y="17.5">FABP4</text></g>
<g id="a-BIK" transform="translate(287)"><rect/><text x="31" y="17.5">BIK</text></g>
<g id="a-CDH3" transform="translate(360.3)"><rect/><text x="31" y="17.5">CDH3</text></g>
<g id="a-CLEC14A" transform="translate(433.7)"><rect/><text x="31" y="17.5" textLength="61" lengthAdjust="spacingAndGlyphs">CLEC14A</text></g>
<g id="a-ACACB" transform="translate(507)"><rect/><text x="31" y="17.5">ACACB</text></g>
<g id="a-CD52" transform="translate(580.3)"><rect/><text x="31" y="17.5">CD52</text></g>
<g id="a-SEMA6A" transform="translate(653.7)"><rect/><text x="31" y="17.5">SEMA6A</text></g>
<g id="a-OGN" transform="translate(727)"><rect/><text x="31" y="17.5">OGN</text></g>
<g id="a-MCM10" transform="translate(800.3)"><rect/><text x="31" y="17.5">MCM10</text></g>
<g id="a-PDPN" transform="translate(873.7)"><rect/><text x="31" y="17.5">PDPN</text></g>
<g id="a-PTGER4" transform="translate(947)"><rect/><text x="31" y="17.5">PTGER4</text></g>
<g id="a-PCOLCE2" transform="translate(1020.3)"><rect/><text x="31" y="17.5" textLength="63" lengthAdjust="spacingAndGlyphs">PCOLCE2</text></g>
<g id="a-IL16" transform="translate(1093.7)"><rect/><text x="31" y="17.5">IL16</text></g>
<g id="a-JUN" transform="translate(1167)"><rect style="fill:#f5821b"/><text x="31" y="17.5">JUN</text></g>
</g>
<g transform="translate(0 590)">
<g id="a-CACNA1I" transform="translate(67)"><rect/><text x="31" y="17.5">CACNA1I</text></g>
<g id="a-GNG11" transform="translate(140.3)"><rect/><text x="31" y="17.5">GNG11</text></g>
<g id="a-ADRB2" transform="translate(213.7)"><rect/><text x="31" y="17.5">ADRB2</text></g>
<g id="a-ADAMTS1" transform="translate(287)"><rect/><text x="31" y="17.5" textLength="63" lengthAdjust="spacingAndGlyphs">ADAMTS1</text></g>
<g id="a-ZBTB16" transform="translate(360.3)"><rect/><text x="31" y="17.5">ZBTB16</text></g>
<g id="a-PPARGC1B" transform="translate(433.7)"><rect/><text x="31" y="17.5" textLength="67" lengthAdjust="spacingAndGlyphs">PPARGC1B</text></g>
<g id="a-ARHGAP31" transform="translate(507)"><rect/><text x="31" y="17.5" textLength="67" lengthAdjust="spacingAndGlyphs">ARHGAP31</text></g>
<g id="a-CDC25C" transform="translate(580.3)"><rect/><text x="31" y="17.5">CDC25C</text></g>
<g id="a-GJB2" transform="translate(653.7)"><rect/><text x="31" y="17.5">GJB2</text></g>
<g id="a-ZNF423" transform="translate(727)"><rect/><text x="31" y="17.5">ZNF423</text></g>
<g id="a-TOP1MT" transform="translate(800.3)"><rect/><text x="31" y="17.5">TOP1MT</text></g>
<g id="a-COL10A1" transform="translate(873.7)"><rect/><text x="31" y="17.5">COL10A1</text></g>
<g id="a-PDE3B" transform="translate(947)"><rect/><text x="31" y="17.5">PDE3B</text></g>
<g id="a-THBS2" transform="translate(1020.3)"><rect/><text x="31" y="17.5">THBS2</text></g>
<g id="a-TEK" transform="translate(1093.7)"><rect/><text x="31" y="17.5">TEK</text></g>
<g id="a-CDO1" transform="translate(1167)"><rect/><text x="31" y="17.5">CDO1</text></g>
</g>
<g transform="translate(0 625.7)">
<g id="a-VWF" transform="translate(67)"><rect style="fill:#ee3a1c"/><text x="31" y="17.5">VWF</text></g>
<g id="a-RAB8B" transform="translate(140.3)"><rect/><text x="31" y="17.5">RAB8B</text></g>
<g id="a-CHRDL1" transform="translate(213.7)"><rect/><text x="31" y="17.5">CHRDL1</text></g>
<g id="a-P2RY14" transform="translate(287)"><rect/><text x="31" y="17.5">P2RY14</text></g>
</g>
</g>

<!-- B: connectors (dense module) -->
<g id="edges-b" class="eg" stroke-width="2.4">
<path d="M170 699L265 699 182 990 218 745 243 982 160 758 313 981 318 767 109 961 263 777 215 940 113 781 347 933 225 802 287 934 168 810 173 909 366 810 110 899 305 822 245 896 110 838 296 875 250 836 366 868 42 863 200 868 137 867"/>
<path d="M265 699L218 745 170 699 160 758 182 990 318 767 243 982 263 777 313 981 113 781 109 961 225 802 215 940 168 810 347 933 366 810 287 934 305 822 173 909 110 838 110 899 250 836 245 896 42 863 296 875 137 867 366 868 200 868"/>
<path d="M218 745L160 758 265 699 318 767 170 699 263 777 182 990 113 781 243 982 225 802 313 981 168 810 109 961 366 810 215 940 305 822 347 933 110 838 287 934 250 836 173 909 42 863 110 899 137 867 245 896 200 868 296 875 366 868"/>
<path d="M160 758L318 767 218 745 263 777 265 699 113 781 170 699 225 802 182 990 168 810 243 982 366 810 313 981 305 822 109 961 110 838 215 940 250 836 347 933 42 863 287 934 137 867 173 909 200 868 110 899 366 868 245 896 296 875"/>
<path d="M318 767L263 777 160 758 113 781 218 745 225 802 265 699 168 810 170 699 366 810 182 990 305 822 243 982 110 838 313 981 250 836 109 961 42 863 215 940 137 867 347 933 200 868 287 934 366 868 173 909 296 875 110 899 245 896"/>
<path d="M263 777L113 781 318 767 225 802 160 758 168 810 218 745 366 810 265 699 305 822 170 699 110 838 182 990 250 836 243 982 42 863 313 981 137 867 109 961 200 868 215 940 366 868 347 933 296 875 287 934 245 896 173 909 110 899"/>
<path d="M113 781L225 802 263 777 168 810 318 767 366 810 160 758 305 822 218 745 110 838 265 699 250 836 170 699 42 863 182 990 137 867 243 982 200 868 313 981 366 868 109 961 296 875 215 940 245 896 347 933 110 899 287 934 173 909"/>
<path d="M225 802L168 810 113 781 366 810 263 777 305 822 318 767 110 838 160 758 250 836 218 745 42 863 265 699 137 867 170 699 200 868 182 990 366 868 243 982 296 875 313 981 245 896 109 961 110 899 215 940 173 909 347 933 287 934"/>
<path d="M168 810L366 810 225 802 305 822 113 781 110 838 263 777 250 836 318 767 42 863 160 758 137 867 218 745 200 868 265 699 366 868 170 699 296 875 182 990 245 896 243 982 110 899 313 981 173 909 109 961 287 934 215 940 347 933"/>
<path d="M366 810L305 822 168 810 110 838 225 802 250 836 113 781 42 863 263 777 137 867 318 767 200 868 160 758 366 868 218 745 296 875 265 699 245 896 170 699 110 899 182 990 173 909 243 982 287 934 313 981 347 933 109 961 215 940"/>
<path d="M305 822L110 838 366 810 250 836 168 810 42 863 225 802 137 867 113 781 200 868 263 777 366 868 318 767 296 875 160 758 245 896 218 745 110 899 265 699 173 909 170 699 287 934 182 990 347 933 243 982 215 940 313 981 109 961"/>
<path d="M110 838L250 836 305 822 42 863 366 810 137 867 168 810 200 868 225 802 366 868 113 781 296 875 263 777 245 896 318 767 110 899 160 758 173 909 218 745 287 934 265 699 347 933 170 699 215 940 182 990 109 961 243 982 313 981"/>
<path d="M250 836L42 863 110 838 137 867 305 822 200 868 366 810 366 868 168 810 296 875 225 802 245 896 113 781 110 899 263 777 173 909 318 767 287 934 160 758 347 933 218 745 215 940 265 699 109 961 170 699 313 981 182 990 243 982"/>
<path d="M42 863L137 867 250 836 200 868 110 838 366 868 305 822 296 875 366 810 245 896 168 810 110 899 225 802 173 909 113 781 287 934 263 777 347 933 318 767 215 940 160 758 109 961 218 745 313 981 265 699 243 982 170 699 182 990"/>
</g>

<!-- B: nodes -->
<g id="nodes-b" class="n pb">
<g id="b-TK1" transform="translate(142 688)"><rect/><text x="28" y="15.5">TK1</text></g>
<g id="b-UBE2T" transform="translate(237 688)"><rect/><text x="28" y="15.5">UBE2T</text></g>
<g id="b-CHEK1" transform="translate(190 734)"><rect/><text x="28" y="15.5">CHEK1</text></g>
<g id="b-TRIP13" transform="translate(132 747)"><rect/><text x="28" y="15.5">TRIP13</text></g>
<g id="b-AURKA" transform="translate(235 766)"><rect/><text x="28" y="15.5">AURKA</text></g>
<g id="b-CENPM" transform="translate(290 756)"><rect/><text x="28" y="15.5">CENPM</text></g>
<g id="b-MCM4" transform="translate(85 770)"><rect/><text x="28" y="15.5">MCM4</text></g>
<g id="b-RRM2" transform="translate(197 791)"><rect/><text x="28" y="15.5">RRM2</text></g>
<g id="b-TOP2A" transform="translate(140 799)"><rect/><text x="28" y="15.5">TOP2A</text></g>
<g id="b-HELLS" transform="translate(338 799)"><rect/><text x="28" y="15.5">HELLS</text></g>
<g id="b-CCNB1" transform="translate(222 825)"><rect/><text x="28" y="15.5">CCNB1</text></g>
<g id="b-BIRC5" transform="translate(277 811)"><rect/><text x="28" y="15.5">BIRC5</text></g>
<g id="b-MKI67" transform="translate(82 827)"><rect/><text x="28" y="15.5">MKI67</text></g>
<g id="b-CCNF" transform="translate(14 852)"><rect/><text x="28" y="15.5">CCNF</text></g>
<g id="b-CDC25C" transform="translate(109 856)"><rect/><text x="28" y="15.5">CDC25C</text></g>
<g id="b-TPX2" transform="translate(172 857)"><rect/><text x="28" y="15.5">TPX2</text></g>
<g id="b-ANLN" transform="translate(338 857)"><rect/><text x="28" y="15.5">ANLN</text></g>
<g id="b-MAD2L1" transform="translate(268 864)"><rect/><text x="28" y="15.5">MAD2L1</text></g>
<g id="b-CENPF" transform="translate(217 885)"><rect/><text x="28" y="15.5">CENPF</text></g>
<g id="b-CEP55" transform="translate(82 888)"><rect/><text x="28" y="15.5">CEP55</text></g>
<g id="b-CDK1" transform="translate(145 898)"><rect/><text x="28" y="15.5">CDK1</text></g>
<g id="b-EXO1" transform="translate(259 923)"><rect/><text x="28" y="15.5">EXO1</text></g>
<g id="b-ECT2" transform="translate(319 922)"><rect/><text x="28" y="15.5">ECT2</text></g>
<g id="b-CDKN3" transform="translate(187 929)"><rect/><text x="28" y="15.5">CDKN3</text></g>
<g id="b-GTSE1" transform="translate(81 950)"><rect/><text x="28" y="15.5">GTSE1</text></g>
<g id="b-DEPDC1B" transform="translate(285 970)"><rect/><text x="28" y="15.5">DEPDC1B</text></g>
<g id="b-MCM10" transform="translate(215 971)"><rect/><text x="28" y="15.5">MCM10</text></g>
<g id="b-NEK2" transform="translate(154 979)"><rect/><text x="28" y="15.5">NEK2</text></g>
</g>

<!-- C: connectors -->
<g id="edges-c" class="eg" stroke-width="2.2">
<path d="M646 678L763 726M646 678L663 811M646 678L686 843M646 678L686 749M646 678L768 845M646 678L778 788M649 713L763 726M649 713L663 811M649 713L686 843M649 713L768 845M649 713L687 876M649 713L778 788M763 726L686 749M763 726L778 788M763 726L768 845M763 726L663 811M763 726L686 843M686 749L768 845M686 749L778 788M686 749L663 811M686 749L686 843M686 749L560 783M686 749L687 876M778 788L768 845M778 788L686 843M545 712L479 751M545 712L560 783M545 712L492 821M545 712L577 818M545 712L514 858M479 751L590 742M479 751L492 821M479 751L560 783M479 751L577 818M479 751L663 811M590 742L560 783M590 742L663 811M590 742L492 821M590 742L577 818M590 742L514 858M560 783L492 821M560 783L577 818M560 783L663 811M560 783L514 858M560 783L602 855M560 783L602 891M560 783L686 843M663 811L577 818M663 811L602 855M663 811L514 858M663 811L686 843M663 811L768 845M663 811L687 876M663 811L492 821M492 821L577 818M492 821L514 858M492 821L602 855M577 818L514 858M577 818L602 855M577 818L602 891M577 818L686 843M577 818L687 876M514 852L602 849M514 864L602 861M514 858L602 891M514 858L687 876M602 855L602 891M602 855L686 843M602 855L687 876M686 843L768 845M686 843L687 876M686 843L602 891M687 876L602 891M629 932L602 891M629 932L687 876"/>
<path d="M629 932L723 937M629 932L539 943M629 932L557 971M629 932L662 968M629 932L589 1000M629 932L685 1001M629 932L650 1037M629 932L754 965M629 932L745 1026M723 937L539 943M723 937L662 968M723 937L557 971M723 937L685 1001M723 937L650 1037M723 937L589 1000M723 937L745 1026M723 937L754 965M539 943L557 971M539 943L662 968M539 943L589 1000M539 943L685 1001M539 943L650 1037M754 965L662 968M754 965L685 1001M754 965L745 1026M754 965L650 1037M754 965L557 971M662 968L557 971M662 968L589 1000M662 968L685 1001M662 968L650 1037M662 968L745 1026M557 971L589 1000M557 971L685 1001M557 971L650 1037M589 1000L685 1001M589 1000L650 1037M589 1000L745 1026M685 1001L745 1026M685 1001L650 1037M650 1037L745 1026"/>
</g>

<!-- C: nodes -->
<g id="nodes-c" class="n pc">
<g id="c-SPARCL1" transform="translate(608 667.5)"><rect/><text x="38" y="15">SPARCL1</text></g>
<g id="c-MMP1" transform="translate(507 701.5)"><rect/><text x="38" y="15">MMP1</text></g>
<g id="c-IGFBP7" transform="translate(611 702.5)"><rect/><text x="38" y="15">IGFBP7</text></g>
<g id="c-CHRDL1" transform="translate(725 715.5)"><rect/><text x="38" y="15">CHRDL1</text></g>
<g id="c-CDKN2A" transform="translate(552 731.5)"><rect/><text x="38" y="15">CDKN2A</text></g>
<g id="c-PPARG" transform="translate(441 740.5)"><rect/><text x="38" y="15">PPARG</text></g>
<g id="c-CYR61" transform="translate(648 738.5)"><rect/><text x="38" y="15">CYR61</text></g>
<g id="c-BMP2" transform="translate(522 772.5)"><rect/><text x="38" y="15">BMP2</text></g>
<g id="c-GOLM1" transform="translate(740 777.5)"><rect/><text x="38" y="15">GOLM1</text></g>
<g id="c-SPP1" transform="translate(625 800.5)"><rect/><text x="38" y="15">SPP1</text></g>
<g id="c-CDH1" transform="translate(454 810.5)"><rect/><text x="38" y="15">CDH1</text></g>
<g id="c-ANGPT1" transform="translate(539 807.5)"><rect/><text x="38" y="15">ANGPT1</text></g>
<g id="c-TIMP1" transform="translate(648 832.5)"><rect/><text x="38" y="15">TIMP1</text></g>
<g id="c-CP" transform="translate(730 834.5)"><rect/><text x="38" y="15">CP</text></g>
<g id="c-NES" transform="translate(476 847.5)"><rect/><text x="38" y="15">NES</text></g>
<g id="c-PECAM1" transform="translate(564 844.5)"><rect/><text x="38" y="15">PECAM1</text></g>
<g id="c-CSF3" transform="translate(649 865.5)"><rect/><text x="38" y="15">CSF3</text></g>
<g id="c-TEK" transform="translate(564 880.5)"><rect/><text x="38" y="15">TEK</text></g>
<g id="c-S1PR1" transform="translate(591 921.5)"><rect/><text x="38" y="15">S1PR1</text></g>
<g id="c-GNG2" transform="translate(685 926.5)"><rect/><text x="38" y="15">GNG2</text></g>
<g id="c-P2RY14" transform="translate(501 932.5)"><rect/><text x="38" y="15">P2RY14</text></g>
<g id="c-C5AR1" transform="translate(716 954.5)"><rect/><text x="38" y="15">C5AR1</text></g>
<g id="c-ADCY4" transform="translate(624 957.5)"><rect/><text x="38" y="15">ADCY4</text></g>
<g id="c-CXCL13" transform="translate(519 960.5)"><rect/><text x="38" y="15">CXCL13</text></g>
<g id="c-SSTR1" transform="translate(551 989.5)"><rect/><text x="38" y="15">SSTR1</text></g>
<g id="c-GNG11" transform="translate(647 990.5)"><rect/><text x="38" y="15">GNG11</text></g>
<g id="c-GPER1" transform="translate(707 1015.5)"><rect/><text x="38" y="15">GPER1</text></g>
<g id="c-S1PR5" transform="translate(612 1026.5)"><rect/><text x="38" y="15">S1PR5</text></g>
</g>

<!-- D: connectors -->
<g id="edges-d" class="eg" stroke-width="3.5">
<path d="M1009 713L1179 766M1009 713L905 859M1009 713L1012 1002M1009 713L1180 944M1179 766L905 859M1179 766L1012 1002M1179 766L1180 944M905 859L1180 944M905 859L1012 1002M1180 944L1012 1002"/>
</g>

<!-- D: nodes -->
<g id="nodes-d" class="n pd">
<g id="d-FZD4" transform="translate(966.5 695.5)"><rect/><text x="42.5" y="24">FZD4</text></g>
<g id="d-WNT7B" transform="translate(1136.5 749)"><rect/><text x="42.5" y="24">WNT7B</text></g>
<g id="d-FZD1" transform="translate(862.5 841.5)"><rect/><text x="42.5" y="24">FZD1</text></g>
<g id="d-WNT2B" transform="translate(1138 927)"><rect/><text x="42.5" y="24">WNT2B</text></g>
<g id="d-AXIN2" transform="translate(969.5 985)"><rect/><text x="42.5" y="24">AXIN2</text></g>
</g>
</svg>
